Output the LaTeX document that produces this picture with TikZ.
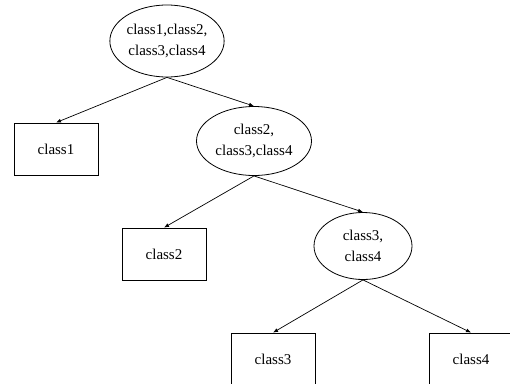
\documentclass[tikz,border=0pt]{standalone}
\usepackage{fontspec}
\setmainfont{Liberation Serif}
\usetikzlibrary{shapes.geometric}
\usetikzlibrary{arrows.meta}

\begin{document}
\begin{tikzpicture}[x=1pt, y=-1pt,
    split/.style={draw, ellipse, inner sep=0pt, align=center, line width=0.8pt,
        font=\fontsize{15}{20.5}\selectfont},
    leaf/.style={draw, rectangle, minimum width=84pt, minimum height=52pt,
        line width=0.8pt, font=\fontsize{15}{20.5}\selectfont},
    edge/.style={-{Latex[length=5pt, width=4pt]}, line width=0.7pt}]
    \useasboundingbox (0,0) rectangle (510,383);
    \clip (0,0) rectangle (510,383);
    % splitting nodes
    \node[split, minimum width=114pt, minimum height=72pt] (all) at (167,41) {class1,class2,\\class3,class4};
    \node[split, minimum width=115pt, minimum height=69pt] (rest) at (254,141) {class2,\\class3,class4};
    \node[split, minimum width=98pt, minimum height=67pt] (last) at (363,246) {class3,\\class4};
    % leaves
    \node[leaf] (c1) at (56,149) {class1};
    \node[leaf] (c2) at (164,254) {class2};
    \node[leaf] (c3) at (273,359) {class3};
    \node[leaf] (c4) at (471,359) {class4};
    % edges
    \draw[edge] (all.south) -- (c1.north);
    \draw[edge] (all.south) -- (rest.north);
    \draw[edge] (rest.south) -- (c2.north);
    \draw[edge] (rest.south) -- (last.north);
    \draw[edge] (last.south) -- (c3.north);
    \draw[edge] (last.south) -- (c4.north);
\end{tikzpicture}
\end{document}
